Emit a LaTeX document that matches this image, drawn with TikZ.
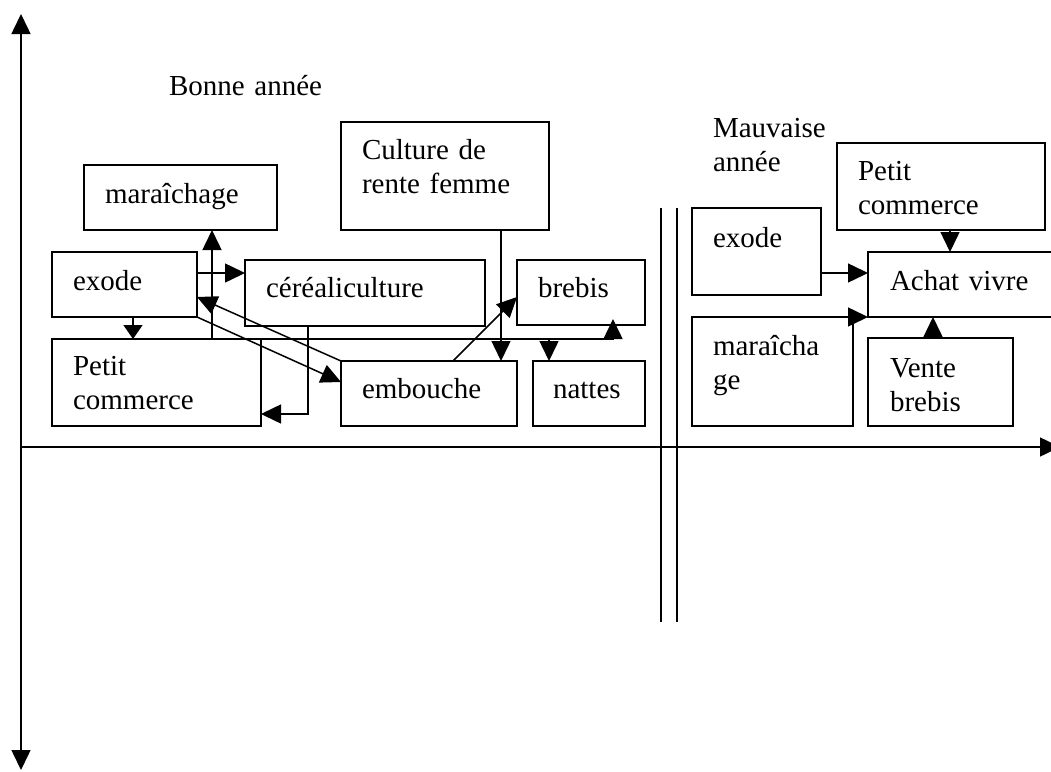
\documentclass[tikz,border=0pt]{standalone}
\usepackage{fontspec}
\setmainfont{Liberation Serif}
\usetikzlibrary{arrows.meta,calc}
\begin{document}
\begin{tikzpicture}[x=1pt,y=-1pt,
  bx/.style={draw,line width=1.5pt,anchor=north west,inner sep=0pt,outer sep=0pt},
  tx/.style={anchor=base west,inner sep=0pt,outer sep=0pt,align=left,text width=240pt,font=\fontsize{29pt}{34pt}\selectfont},
  ln/.style={line width=1.5pt},
  arr/.style={line width=1.5pt,-{Triangle[length=20pt,width=19pt]}},
  arrs/.style={line width=1.5pt,-{Triangle[length=14pt,width=19pt]}},
  ax/.style={line width=1.5pt,{Triangle[length=20pt,width=19pt]}-{Triangle[length=20pt,width=19pt]}}]
\clip (0,0) rectangle (1051,771);
\fill[white] (0,0) rectangle (1051,771);
% axes
\coordinate (yt) at (21,14);
\coordinate (yb) at (21,770);
\coordinate (xo) at (21,447);
\coordinate (xr) at (1060,447);
\draw[ax] (yb) -- (yt);
\draw[arr] (xo) -- (xr);
% separator
\coordinate (s1t) at (661,208); \coordinate (s1b) at (661,622);
\coordinate (s2t) at (677,208); \coordinate (s2b) at (677,622);
\draw[ln] (s1t) -- (s1b);
\draw[ln] (s2t) -- (s2b);
% titles
\node[tx] (bonne) at (169,95) {Bonne année};
\node[tx] (mauv) at (713,137) {Mauvaise\\année};
% left boxes
\node[bx,minimum width=193pt,minimum height=65pt] (mar) at (84,165) {};
\node[tx] (mar-t) at ($(mar.north west)+(21,38)$) {maraîchage};
\node[bx,minimum width=145pt,minimum height=65pt] (ex) at (52,252) {};
\node[tx] (ex-t) at ($(ex.north west)+(21,38)$) {exode};
\node[bx,minimum width=240pt,minimum height=66pt] (cer) at (245,260) {};
\node[tx] (cer-t) at ($(cer.north west)+(21,37)$) {céréaliculture};
\node[bx,minimum width=209pt,minimum height=87pt] (pc) at (52,339) {};
\node[tx] (pc-t) at ($(pc.north west)+(21,36)$) {Petit\\commerce};
\node[bx,minimum width=208pt,minimum height=108pt] (cul) at (341,122) {};
\node[tx] (cul-t) at ($(cul.north west)+(21,37)$) {Culture de\\rente femme};
\node[bx,minimum width=176pt,minimum height=65pt] (emb) at (341,361) {};
\node[tx] (emb-t) at ($(emb.north west)+(21,37)$) {embouche};
\node[bx,minimum width=128pt,minimum height=65pt] (bre) at (517,260) {};
\node[tx] (bre-t) at ($(bre.north west)+(21,37)$) {brebis};
\node[bx,minimum width=112pt,minimum height=65pt] (nat) at (533,361) {};
\node[tx] (nat-t) at ($(nat.north west)+(20,37)$) {nattes};
% right boxes
\node[bx,minimum width=129pt,minimum height=87pt] (ex2) at (692,208) {};
\node[tx] (ex2-t) at ($(ex2.north west)+(21,39)$) {exode};
\node[bx,minimum width=208pt,minimum height=87pt] (pc2) at (837,143) {};
\node[tx] (pc2-t) at ($(pc2.north west)+(21,37)$) {Petit\\commerce};
\node[bx,minimum width=220pt,minimum height=65pt] (ach) at (868,252) {};
\node[tx] (ach-t) at ($(ach.north west)+(22,38)$) {Achat vivre};
\node[bx,minimum width=161pt,minimum height=109pt] (mar2) at (692,317) {};
\node[tx] (mar2-t) at ($(mar2.north west)+(21,38)$) {maraîcha\\ge};
\node[bx,minimum width=145pt,minimum height=88pt] (vb) at (868,338) {};
\node[tx] (vb-t) at ($(vb.north west)+(22,39)$) {Vente\\brebis};
% left connectors
\draw[arr] ($(ex.north east)+(0,21)$) -- ($(cer.north west)+(0,13)$);
\draw[arr] ($(pc.north west)+(160,0)$) -- ($(mar.south west)+(128,0)$);
\draw[arr] (emb.north west) -- ($(ex.north east)+(0,45)$);
\draw[arrs] ($(ex.south west)+(81,0)$) -- ($(pc.north west)+(81,0)$);
\draw[arr] (ex.south east) -- ($(emb.north west)+(0,21)$);
\draw[arr] ($(cer.south west)+(63,0)$) |- ($(pc.south east)+(0,-12)$);
\coordinate (j) at ($(bre.south west)+(96,14)$);
\draw[ln] ($(pc.north west)+(160,0)$) -- (j);
\draw[arr] (j) -- ($(bre.south west)+(96,-6)$);
\draw[arr] ($(nat.north west)+(16,-22)$) -- ($(nat.north west)+(16,0)$);
\draw[arr] ($(cul.south west)+(160,0)$) -- ($(emb.north west)+(160,0)$);
\draw[arr] ($(emb.north west)+(112,0)$) -- ($(bre.north west)+(0,37)$);
% right connectors
\draw[arr] ($(ex2.north east)+(0,65)$) -- ($(ach.north west)+(0,21)$);
\draw[arr] ($(mar2.north east)+(-40,0)$) -- (ach.south west);
\draw[arr] ($(pc2.south west)+(113,0)$) -- ($(ach.north west)+(82,0)$);
\draw[arr] ($(vb.north west)+(65,0)$) -- ($(ach.south west)+(65,0)$);
\end{tikzpicture}
\end{document}
